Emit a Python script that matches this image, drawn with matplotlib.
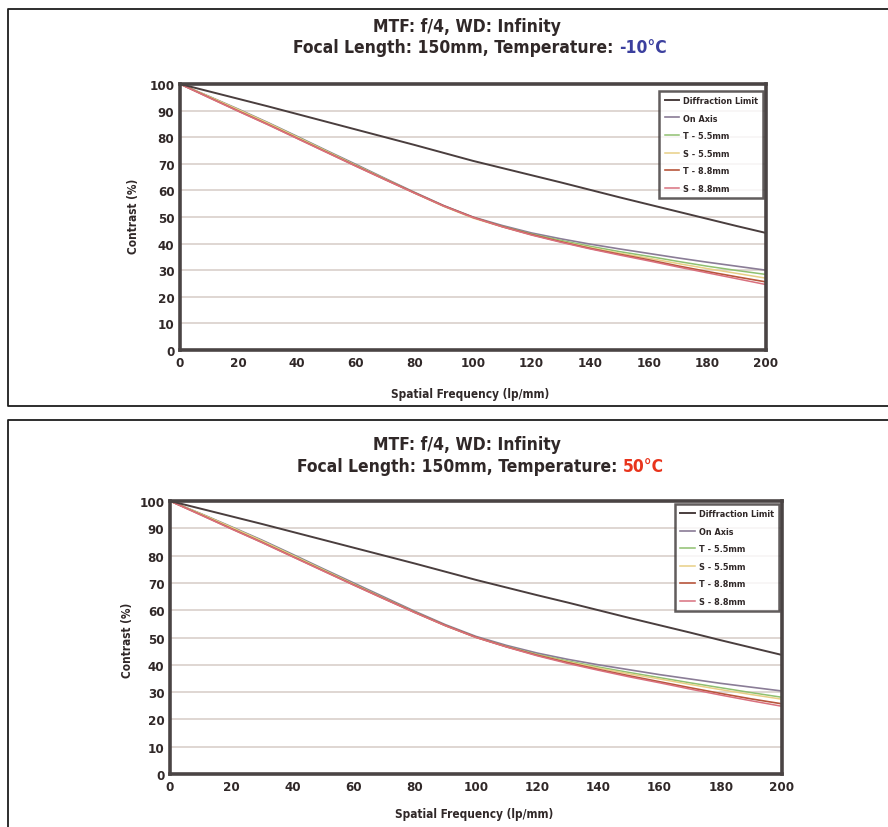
import matplotlib
matplotlib.use("Agg")
import matplotlib.pyplot as plt
from matplotlib.lines import Line2D

# ---------------- data ----------------
freq = [0, 10, 20, 30, 40, 50, 60, 70, 80, 90, 100, 110, 120, 130, 140, 150, 160, 170, 180, 190, 200]
series_names = ["Diffraction Limit", "On Axis", "T - 5.5mm", "S - 5.5mm", "T - 8.8mm", "S - 8.8mm"]

top_diff = [100, 97.2, 94.4, 91.6, 88.7, 85.8, 82.9, 80.0, 77.1, 74.1, 71.1, 68.4, 65.7, 63.0, 60.2, 57.4, 54.7, 52.0, 49.3, 46.6, 44.0]
top_axis = [100, 95.3, 90.5, 85.5, 80.3, 75.0, 69.8, 64.5, 59.3, 54.3, 50.0, 46.8, 44.0, 41.8, 39.8, 38.0, 36.3, 34.6, 33.0, 31.5, 30.0]
top_t55 = [100, 95.2, 90.3, 85.3, 80.1, 74.8, 69.5, 64.3, 59.1, 54.1, 49.8, 46.5, 43.6, 41.2, 39.0, 37.0, 35.2, 33.3, 31.5, 29.9, 28.4]
top_s55 = [100, 95.2, 90.3, 85.3, 80.0, 74.7, 69.4, 64.2, 59.0, 54.0, 49.6, 46.3, 43.3, 40.8, 38.5, 36.4, 34.5, 32.5, 30.6, 28.8, 27.0]
top_t88 = [100, 94.9, 89.8, 84.8, 79.6, 74.4, 69.2, 64.1, 59.1, 54.2, 49.9, 46.4, 43.4, 40.7, 38.2, 36.0, 33.9, 31.6, 29.5, 27.5, 25.6]
top_s88 = [100, 94.8, 89.7, 84.7, 79.5, 74.3, 69.1, 64.0, 59.0, 54.1, 49.8, 46.3, 43.2, 40.5, 38.0, 35.7, 33.5, 31.2, 29.0, 26.8, 24.6]

bot_diff = [100, 97.2, 94.4, 91.6, 88.7, 85.8, 82.9, 80.0, 77.1, 74.1, 71.1, 68.3, 65.5, 62.8, 60.0, 57.2, 54.5, 51.8, 49.0, 46.3, 43.6]
bot_axis = [100, 95.4, 90.6, 85.7, 80.5, 75.2, 70.0, 64.8, 59.6, 54.7, 50.4, 47.1, 44.3, 42.0, 40.0, 38.2, 36.4, 34.8, 33.2, 31.8, 30.4]
bot_t55 = [100, 95.3, 90.4, 85.4, 80.2, 74.9, 69.6, 64.4, 59.3, 54.4, 50.1, 46.7, 43.8, 41.4, 39.2, 37.2, 35.3, 33.4, 31.6, 29.8, 28.1]
bot_s55 = [100, 95.3, 90.4, 85.4, 80.1, 74.8, 69.5, 64.3, 59.2, 54.3, 50.0, 46.6, 43.6, 41.1, 38.8, 36.7, 34.8, 32.8, 30.9, 29.1, 27.4]
bot_t88 = [100, 95.0, 89.9, 84.9, 79.7, 74.5, 69.3, 64.2, 59.2, 54.4, 50.1, 46.6, 43.5, 40.8, 38.3, 36.0, 33.8, 31.6, 29.5, 27.5, 25.7]
bot_s88 = [100, 94.9, 89.8, 84.8, 79.6, 74.4, 69.2, 64.1, 59.1, 54.3, 50.0, 46.5, 43.3, 40.5, 38.0, 35.6, 33.4, 31.1, 28.9, 26.8, 24.8]

xticks = [0, 20, 40, 60, 80, 100, 120, 140, 160, 180, 200]
yticks = [0, 10, 20, 30, 40, 50, 60, 70, 80, 90, 100]

title_line1 = "MTF: f/4, WD: Infinity"
title_line2 = "Focal Length: 150mm, Temperature: "
temps = ["-10°C", "50°C"]
temp_colors = ["#3b3f9e", "#e8341c"]

colors = ["#4a3e3e", "#8a7c96", "#8fc070", "#e8cf86", "#b8563c", "#d9707e"]
widths = [1.4, 1.2, 1.1, 1.1, 1.2, 1.1]

# ---------------- figure ----------------
W, H = 888, 828
fig = plt.figure(figsize=(W / 100, H / 100), dpi=100)
fig.patch.set_facecolor("white")

FONT = "DejaVu Sans"
ST = "condensed"
TXT = "#302828"

def px(x, y):
    return x / W, 1 - y / H

def fline(xs, ys, lw=1.3, c="#1e1e1e"):
    fig.add_artist(Line2D([x / W for x in xs], [1 - y / H for y in ys],
                          transform=fig.transFigure, color=c, lw=lw))

fline([888, 8, 8, 888], [10, 10, 407, 407])
fline([888, 8, 8], [421, 421, 828])

panels = [
    dict(rect=(180, 85, 766, 351), series=[top_diff, top_axis, top_t55, top_s55, top_t88, top_s88],
         t1=(467, 27), t2=(480, 48), ylab=(133, 216), xlab=(470, 395), temp=0, leg=(0.995, 0.975)),
    dict(rect=(170, 502, 782, 775), series=[bot_diff, bot_axis, bot_t55, bot_s55, bot_t88, bot_s88],
         t1=(467, 445), t2=(480, 467), ylab=(127, 640), xlab=(474, 815), temp=1, leg=(0.995, 0.99)),
]

renderer = fig.canvas.get_renderer()

def tprops(size):
    return dict(family=FONT, fontweight="bold", fontstretch=ST, fontsize=size)

for p in panels:
    l, t, r, b = p["rect"]
    ax = fig.add_axes([l / W, 1 - b / H, (r - l) / W, (b - t) / H])
    for name, vals, c, lw in zip(series_names, p["series"], colors, widths):
        ax.plot(freq, vals, color=c, lw=lw, label=name, zorder=3 if name != "Diffraction Limit" else 4)
    ax.set_xlim(0, 200)
    ax.set_ylim(0, 100)
    ax.set_xticks(xticks)
    ax.set_yticks(yticks)
    ax.set_xticklabels([str(v) for v in xticks], color=TXT, **tprops(9.5))
    ax.set_yticklabels([str(v) for v in yticks], color=TXT, **tprops(9.5))
    ax.tick_params(length=0, pad=4)
    ax.yaxis.grid(True, color="#dcd3cf", lw=1.3, zorder=1)
    ax.set_axisbelow(True)
    for s in ax.spines.values():
        s.set_linewidth(2.6)
        s.set_color("#4a4444")
        s.set_zorder(6)
    leg = ax.legend(loc="upper right", bbox_to_anchor=p["leg"], frameon=True, fancybox=False,
                    prop=dict(family=FONT, weight="bold", stretch=ST, size=6.5), handlelength=1.6,
                    handletextpad=0.4, labelspacing=0.95, borderpad=0.6, borderaxespad=0.0)
    leg.get_frame().set_edgecolor("#3a3434")
    leg.get_frame().set_linewidth(1.8)
    for txt in leg.get_texts():
        txt.set_color(TXT)

    x1, y1 = px(*p["t1"])
    fig.text(x1, y1, title_line1, ha="center", va="center", color=TXT, **tprops(12.5))
    x2, y2 = px(*p["t2"])
    ta = fig.text(x2, y2, title_line2, ha="right", va="center", color=TXT, **tprops(12.5))
    tb = fig.text(x2, y2, temps[p["temp"]], ha="left", va="center",
                  color=temp_colors[p["temp"]], **tprops(12.5))
    wa = ta.get_window_extent(renderer).width / W
    wb = tb.get_window_extent(renderer).width / W
    xs = x2 + (wa - wb) / 2
    ta.set_x(xs)
    tb.set_x(xs)

    yx, yy = px(*p["ylab"])
    fig.text(yx, yy, "Contrast (%)", rotation=90, ha="center", va="center", color=TXT, **tprops(8.5))
    xx, xy = px(*p["xlab"])
    fig.text(xx, xy, "Spatial Frequency (lp/mm)", ha="center", va="center", color=TXT, **tprops(8.5))

fig.savefig("out.png", dpi=100, facecolor="white")
